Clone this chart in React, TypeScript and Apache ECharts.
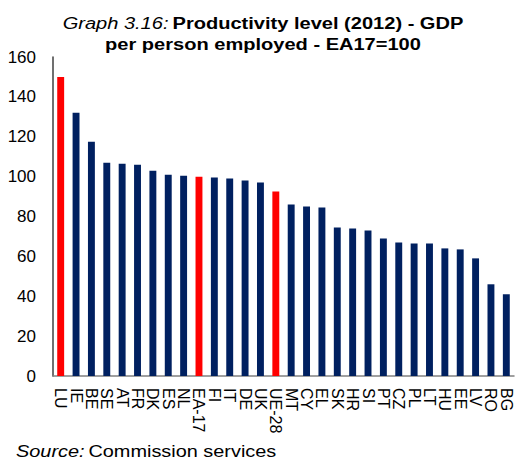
import React, { useEffect, useRef } from "react";
import * as echarts from "echarts";

const categories = ["LU", "IE", "BE", "SE", "AT", "FR", "DK", "ES", "NL", "EA-17", "FI", "IT", "DE", "UK", "UE-28", "MT", "CY", "EL", "SK", "HR", "SI", "PT", "CZ", "PL", "LT", "HU", "EE", "LV", "RO", "BG"];
const values = [150, 132, 117.5, 107, 106.5, 106, 103, 101, 100.5, 100, 99.5, 99, 98, 97, 92.5, 86, 85, 84.5, 74.5, 74, 73, 69, 67, 66.5, 66.5, 64, 63.5, 59, 46, 41];
const highlighted = ["LU", "EA-17", "UE-28"];
const yTicks = { min: 0, max: 160, interval: 20 };

const NAVY = "#002060";
const RED = "#FF0000";

export default function App() {
  const ref = useRef<HTMLDivElement>(null);
  useEffect(() => {
    if (!ref.current) return;
    const chart = echarts.init(ref.current, null, { renderer: "svg" });
    const font = "Liberation Sans, Arial, sans-serif";
    chart.setOption({
      animation: false,
      textStyle: { fontFamily: font },
      graphic: [
        {
          type: "text",
          x: 263,
          y: 13,
          scaleX: 1.18,
          style: {
            x: 0,
            y: 0,
            text: "{i|Graph 3.16:} {b|Productivity level (2012) - GDP}\n{b|per person employed - EA17=100}",
            align: "center",
            textAlign: "center",
            verticalAlign: "top",
            textVerticalAlign: "top",
            rich: {
              i: { fontStyle: "italic", fontWeight: "normal", fontSize: 17, fill: "#000", fontFamily: font, lineHeight: 21 },
              b: { fontWeight: "bold", fontSize: 17, fill: "#000", fontFamily: font, lineHeight: 21 },
            },
          },
        },
        {
          type: "text",
          x: 16,
          y: 441,
          scaleX: 1.17,
          style: {
            x: 0,
            y: 0,
            text: "{i|Source:} {r|Commission services}",
            align: "left",
            textAlign: "left",
            verticalAlign: "top",
            textVerticalAlign: "top",
            rich: {
              i: { fontStyle: "italic", fontSize: 17, fill: "#000", fontFamily: font, lineHeight: 20 },
              r: { fontSize: 17, fill: "#000", fontFamily: font, lineHeight: 20 },
            },
          },
        },
      ],
      grid: { left: 53, right: 2, top: 57, bottom: 86 },
      xAxis: {
        type: "category",
        data: categories,
        axisLine: { lineStyle: { color: "#808080", width: 1.5 } },
        axisTick: { show: false },
        axisLabel: { interval: 0, rotate: -90, fontSize: 16, color: "#000", fontFamily: font, margin: 12 },
      },
      yAxis: {
        type: "value",
        min: yTicks.min,
        max: yTicks.max,
        interval: yTicks.interval,
        splitLine: { show: false },
        axisLine: { show: true, lineStyle: { color: "#404040", width: 1.5 } },
        axisTick: { show: false },
        axisLabel: { fontSize: 17, color: "#000", fontFamily: font, margin: 17 },
      },
      series: [
        {
          type: "bar",
          barWidth: "45%",
          data: values.map((v, i) => ({
            value: v,
            itemStyle: { color: highlighted.includes(categories[i]) ? RED : NAVY },
          })),
        },
      ],
    });
    return () => chart.dispose();
  }, []);
  return <div ref={ref} style={{ width: 516, height: 462, position: "absolute", left: 0, top: 0 }} />;
}
